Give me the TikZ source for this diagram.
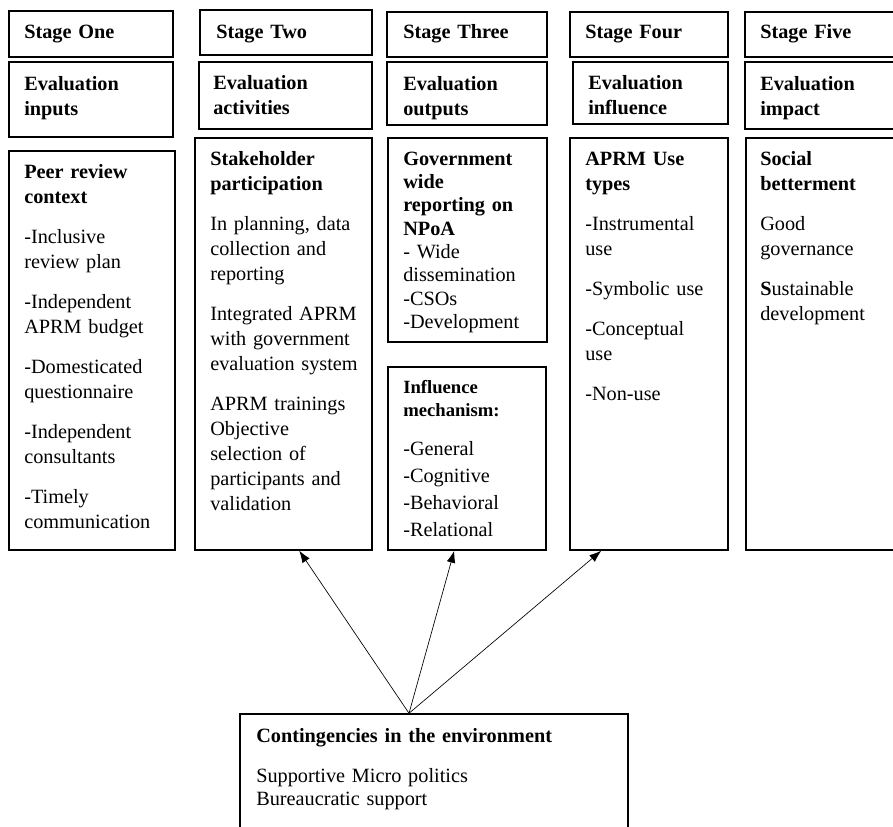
\documentclass[tikz,border=0pt]{standalone}
\usepackage{fontspec}
\setmainfont{Liberation Serif}
\usetikzlibrary{arrows.meta,fit,positioning}

\tikzset{
  box/.style={draw, line width=1.1pt, inner sep=0pt},
  txt/.style={anchor=base west, inner sep=0pt, text width=125pt, align=left,
    font=\fontsize{15.2}{18.75}\selectfont},
  tight/.style={font=\fontsize{15.2}{17.5}\selectfont},
  arr/.style={-{Latex[length=9pt,width=6.5pt]}, line width=0.5pt}
}

\begin{document}
\begin{tikzpicture}[x=0.75pt,y=-0.75pt]
  \useasboundingbox (0,0) rectangle (893,826);
  \clip (0,0) rectangle (893,826);

  % stage headers
  \node[box, fit={(9,11) (173,57)}] (st1) {};
  \node[box, fit={(200,10) (372,55)}] (st2) {};
  \node[box, fit={(387,12) (547,57)}] (st3) {};
  \node[box, fit={(570,12) (728,57)}] (st4) {};
  \node[box, fit={(745,12) (905,57)}] (st5) {};
  \foreach \x/\n/\lab in {24/1/One,216/2/Two,403/3/Three,585/4/Four,760/5/Five}
  {
    \node[txt] (t-st\n) at (\x,38) {\textbf{Stage \lab}};
  }

  % evaluation boxes
  \node[box, fit={(9,62) (173,137)}] (ev1) {};
  \node[box, fit={(199,62) (372,129)}] (ev2) {};
  \node[box, fit={(387,62) (547,125)}] (ev3) {};
  \node[box, fit={(573,62) (728,124)}] (ev4) {};
  \node[box, fit={(745,62) (905,129)}] (ev5) {};
  \node[txt] (t-ev1) at (24,90) {\textbf{Evaluation\\inputs}};
  \node[txt] (t-ev2) at (213,89) {\textbf{Evaluation\\activities}};
  \node[txt] (t-ev3) at (403,90) {\textbf{Evaluation\\outputs}};
  \node[txt] (t-ev4) at (588,89) {\textbf{Evaluation\\influence}};
  \node[txt] (t-ev5) at (760,90) {\textbf{Evaluation\\impact}};

  % content boxes
  \node[box, fit={(9,151) (175,550)}] (inputs) {};
  \node[box, fit={(195,138) (372,550)}] (activities) {};
  \node[box, fit={(388,138) (547,342)}] (outputs) {};
  \node[box, fit={(388,367) (546,550)}] (mechanism) {};
  \node[box, fit={(570,138) (728,550)}] (usetypes) {};
  \node[box, fit={(746,138) (905,550)}] (betterment) {};

  \node[txt] (t-inputs) at (24,178) {\textbf{Peer review\\context}\\[11.25pt]
    -Inclusive\\review plan\\[11.25pt]
    -Independent\\APRM budget\\[11.25pt]
    -Domesticated\\questionnaire\\[11.25pt]
    -Independent\\consultants\\[11.25pt]
    -Timely\\communication};
  \node[txt] (t-activities) at (210,165) {\textbf{Stakeholder\\participation}\\[11.25pt]
    In planning, data\\collection and\\reporting\\[11.25pt]
    Integrated APRM\\with government\\evaluation system\\[11.25pt]
    APRM trainings\\Objective\\selection of\\participants and\\validation};
  \node[txt, tight] (t-outputs) at (403,165) {\textbf{Government\\wide\\reporting on\\NPoA}\\
    - Wide\\dissemination\\-CSOs\\-Development};
  \node[txt, font=\fontsize{14}{17.5}\selectfont] (t-mechhead) at (403,393)
    {\textbf{Influence\\mechanism:}};
  \node[txt, font=\fontsize{15.2}{20.25}\selectfont] (t-mechlist) at (403,455)
    {-General\\-Cognitive\\-Behavioral\\-Relational};
  \node[txt] (t-usetypes) at (585,165) {\textbf{APRM Use\\types}\\[11.25pt]
    -Instrumental\\use\\[11.25pt]
    -Symbolic use\\[11.25pt]
    -Conceptual\\use\\[11.25pt]
    -Non-use};
  \node[txt] (t-betterment) at (760,165) {\textbf{Social\\betterment}\\[11.25pt]
    Good\\governance\\[11.25pt]
    \textbf{S}ustainable\\development};

  % environment
  \node[box, fit={(240,714) (628,840)}] (env) {};
  \node[txt, text width=350pt, font=\fontsize{15.2}{17.25}\selectfont] (t-env) at (256,742)
    {\textbf{Contingencies in the environment}\\[12.75pt]
    Supportive Micro politics\\Bureaucratic support};

  \draw[arr] ([xshift=-18.75pt]env.north) -- ([xshift=78.75pt]activities.south west);
  \draw[arr] ([xshift=-18.75pt]env.north) -- ([xshift=50.25pt]mechanism.south west);
  \draw[arr] ([xshift=-18.75pt]env.north) -- ([xshift=24pt]usetypes.south west);
\end{tikzpicture}
\end{document}
